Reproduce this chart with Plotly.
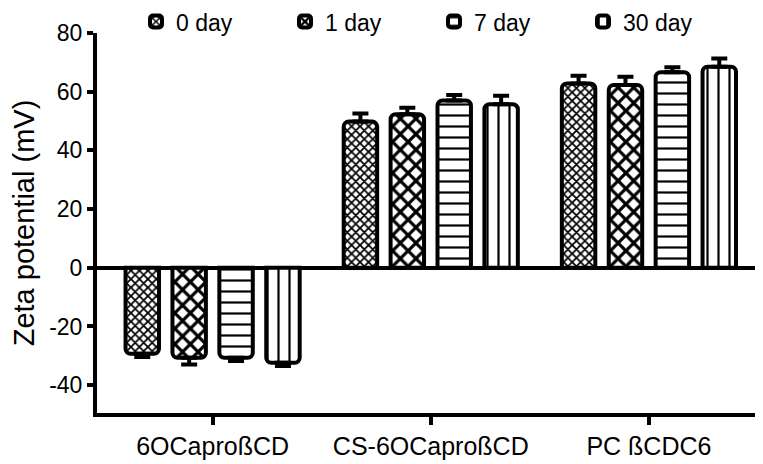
import plotly.graph_objects as go

categories = ["6OCaproßCD", "CS-6OCaproßCD", "PC ßCDC6"]
series_names = ["0 day", "1 day", "7 day", "30 day"]

day0 = [-29.3, 49.8, 62.8]
day1 = [-30.7, 52.3, 62.3]
day7 = [-30.7, 57.0, 66.6]
day30 = [-32.4, 55.7, 68.5]

err0 = [1.1, 2.8, 2.6]
err1 = [2.3, 2.2, 2.8]
err7 = [1.1, 1.9, 1.7]
err30 = [1.1, 2.9, 2.8]

y_ticks = [-40, -20, 0, 20, 40, 60, 80]
y_tick_labels = [str(v) for v in y_ticks]

series = [day0, day1, day7, day30]
errors = [err0, err1, err7, err30]
patterns = [
    dict(shape="x", size=6, solidity=0.5),
    dict(shape="x", size=11, solidity=0.5),
    dict(shape="-", size=11, solidity=0.2),
    dict(shape="|", size=11, solidity=0.2),
]

FONT = "Liberation Sans, Arial, sans-serif"
W, H = 755, 456  # page body has an 8px default margin

fig = go.Figure()
for name, vals, errs, pat in zip(series_names, series, errors, patterns):
    plus = [e if v > 0 else 0 for v, e in zip(vals, errs)]
    minus = [e if v < 0 else 0 for v, e in zip(vals, errs)]
    fig.add_trace(go.Bar(
        name=name,
        x=categories,
        y=vals,
        marker=dict(
            color="white",
            line=dict(color="black", width=4),
            pattern=dict(fgcolor="black", bgcolor="white", fillmode="replace", **pat),
            cornerradius=5,
        ),
        error_y=dict(type="data", symmetric=False, array=plus, arrayminus=minus,
                     color="black", thickness=4, width=8),
    ))

fig.update_layout(
    width=W, height=H,
    margin=dict(l=89, r=5, t=25, b=51, autoexpand=False),
    paper_bgcolor="white", plot_bgcolor="white",
    barmode="group", bargap=0.14, bargroupgap=0.287,
    font=dict(family=FONT, size=22, color="black"),
    legend=dict(orientation="h", xref="paper", yref="paper",
                x=0.059, y=1.03, xanchor="left", yanchor="middle",
                entrywidth=104, entrywidthmode="pixels",
                font=dict(family=FONT, size=23, color="black"),
                itemwidth=30, bgcolor="rgba(0,0,0,0)"),
    showlegend=True,
)
fig.update_xaxes(
    range=[-0.53, 2.5], showline=True, linewidth=4, linecolor="black",
    ticks="outside", ticklen=8, tickwidth=4, tickcolor="black",
    tickfont=dict(family=FONT, size=25, color="black"),
    showgrid=False, zeroline=False,
)
fig.update_yaxes(
    range=[-49.5, 80], tickvals=y_ticks, ticktext=y_tick_labels,
    showline=True, linewidth=4, linecolor="black",
    ticks="outside", ticklen=6, tickwidth=4, tickcolor="black",
    tickfont=dict(family=FONT, size=23, color="black"),
    showgrid=False, zeroline=True, zerolinewidth=4, zerolinecolor="black",
    title=dict(text="Zeta potential (mV)", font=dict(family=FONT, size=29, color="black"), standoff=11),
)

fig.write_html("out.html")
